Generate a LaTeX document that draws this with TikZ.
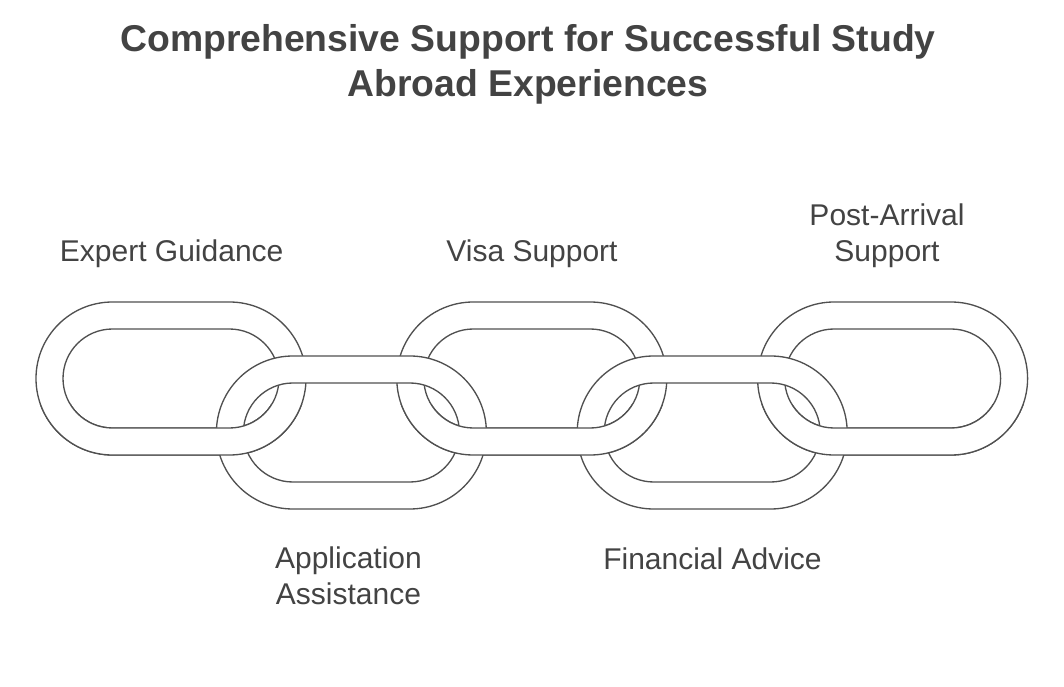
\documentclass[tikz,border=0pt]{standalone}
\usepackage{fontspec}
\setmainfont{Liberation Sans}
\definecolor{inkgray}{HTML}{434343}
\definecolor{ringgray}{HTML}{505050}
\tikzset{
  linkring/.style={fill=white, draw=ringgray, line width=1pt, even odd rule},
  linktext/.style={text=inkgray, font=\fontsize{22.5}{27}\selectfont,
                   align=center, inner sep=0pt},
  headline/.style={text=inkgray, font=\bfseries\fontsize{28}{33.75}\selectfont,
                   align=center, inner sep=0pt},
}
% one oval chain link (outer and inner outline, ring filled white)
\newcommand{\chainlink}[1]{%
  \path[linkring, shift={(#1)}]
    (-58.5,-76.5) -- (58.5,-76.5) arc[start angle=-90, end angle=90, radius=76.5]
    -- (-58.5,76.5) arc[start angle=90, end angle=270, radius=76.5] -- cycle
    (-58.5,-49.5) -- (58.5,-49.5) arc[start angle=-90, end angle=90, radius=49.5]
    -- (-58.5,49.5) arc[start angle=90, end angle=270, radius=49.5] -- cycle;}

\begin{document}
\begin{tikzpicture}[x=0.75pt, y=0.75pt]
  \useasboundingbox (0,0) rectangle (1064,686);
  \coordinate (expert) at (171,307.5);
  \coordinate (appl) at (351.4,253.5);
  \coordinate (visa) at (531.8,307.5);
  \coordinate (fin) at (712.2,253.5);
  \coordinate (post) at (892.6,307.5);
  % upper links, then lower links over them
  \chainlink{expert} \chainlink{visa} \chainlink{post}
  \chainlink{appl} \chainlink{fin}
  % bottom bands of the upper links pass in front again
  \begin{scope}
    \clip (0,0) rectangle (1064,281);
    \chainlink{expert} \chainlink{visa} \chainlink{post}
  \end{scope}
  \node[headline] (title) at (528,621.4)
    {Comprehensive Support for Successful Study\\Abroad Experiences};
  \node[linktext] (lexpert) at (171.7,432.1) {Expert Guidance};
  \node[linktext] (lvisa) at (532,432.1) {Visa Support};
  \node[linktext] (lpost) at (887,450.1) {Post-Arrival\\Support};
  \node[linktext] (lappl) at (348.5,109.8) {Application\\Assistance};
  \node[linktext] (lfin) at (712.5,127.6) {Financial Advice};
\end{tikzpicture}
\end{document}
